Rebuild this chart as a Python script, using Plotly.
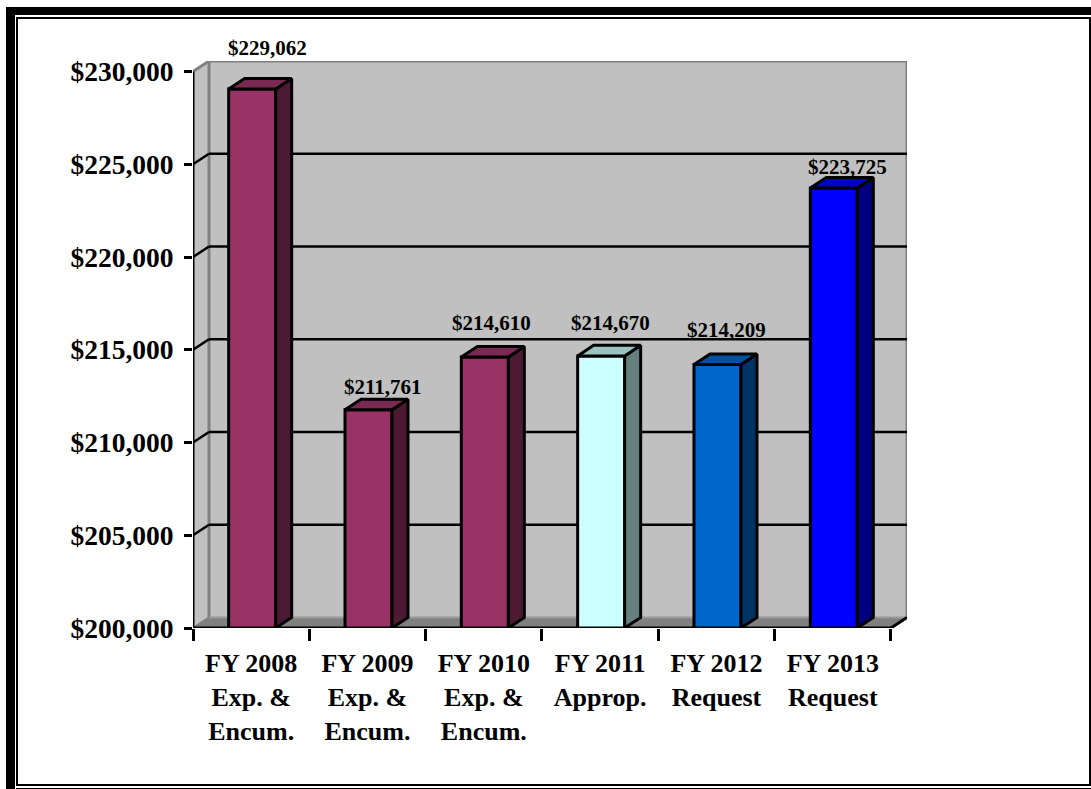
import plotly.graph_objects as go

categories = ["FY 2008<br>Exp. &<br>Encum.", "FY 2009<br>Exp. &<br>Encum.", "FY 2010<br>Exp. &<br>Encum.",
              "FY 2011<br>Approp.", "FY 2012<br>Request", "FY 2013<br>Request"]
values = [229062, 211761, 214610, 214670, 214209, 223725]
value_labels = ["$229,062", "$211,761", "$214,610", "$214,670", "$214,209", "$223,725"]
y_ticks = [200000, 205000, 210000, 215000, 220000, 225000, 230000]
y_tick_labels = ["$200,000", "$205,000", "$210,000", "$215,000", "$220,000", "$225,000", "$230,000"]

front_colors = ["#993366", "#993366", "#993366", "#CCFFFF", "#0066CC", "#0000FF"]
side_colors = ["#4D1A33", "#4D1A33", "#4D1A33", "#668080", "#003366", "#000080"]
top_colors = ["#7A2952", "#7A2952", "#7A2952", "#9CC3C2", "#00519F", "#0000CC"]
label_xshift = [16, 15, 8, 10, 10, 15]
label_yshift = [41, 23, 34, 33, 34, 21]

W, H = 1091, 789
L, R, T, B = 193, 907, 61, 628
UNIT_X = 116.33
UNIT_Y = 92.67 / 5000
DX = 16 / UNIT_X
DY = 10.5 / UNIT_Y
BAR_W = 47 / UNIT_X
BAR_NUDGE = 1 / UNIT_X
Y0 = 200000
NCAT = len(categories)
FONT = "Liberation Serif"

fig = go.Figure()
xc = [i + 0.5 for i in range(NCAT)]
xb = [c + BAR_NUDGE for c in xc]

fig.add_trace(go.Bar(x=xb, y=[v - Y0 for v in values], base=Y0, width=BAR_W,
                     marker=dict(color=front_colors, line=dict(color="black", width=3)),
                     showlegend=False, hoverinfo="skip"))

for c, v, sc, tc in zip(xb, values, side_colors, top_colors):
    l, r = c - BAR_W / 2, c + BAR_W / 2
    fig.add_trace(go.Scatter(x=[r, r + DX, r + DX, r, r], y=[Y0, Y0 + DY, v + DY, v, Y0],
                             fill="toself", fillcolor=sc, mode="lines",
                             line=dict(color="black", width=3), showlegend=False, hoverinfo="skip"))
    fig.add_trace(go.Scatter(x=[l, r, r + DX, l + DX, l], y=[v, v, v + DY, v + DY, v],
                             fill="toself", fillcolor=tc, mode="lines",
                             line=dict(color="black", width=3), showlegend=False, hoverinfo="skip"))


def poly(pts, fill, line=None, width=0, layer="below"):
    path = "M" + " L".join(f"{x},{y}" for x, y in pts) + " Z"
    return dict(type="path", path=path, xref="x", yref="y", fillcolor=fill, layer=layer,
                line=dict(color=line or fill, width=width))


def seg(x0, y0, x1, y1, color="black", width=2, layer="below"):
    return dict(type="line", xref="x", yref="y", x0=x0, y0=y0, x1=x1, y1=y1, layer=layer,
                line=dict(color=color, width=width))


def px_x(p):
    return (p - L) / (R - L)


def px_y(p):
    return (B - p) / (B - T)


def frame(x0, y0, x1, y1):
    return dict(type="rect", xref="paper", yref="paper", x0=px_x(x0), x1=px_x(x1), y0=px_y(y0), y1=px_y(y1),
                fillcolor="black", line=dict(width=0), layer="above")


top_y = y_ticks[-1]
shapes = [
    poly([(DX, Y0 + DY), (NCAT + DX, Y0 + DY), (NCAT + DX, top_y + DY), (DX, top_y + DY)], "#C0C0C0"),
    poly([(0, Y0), (DX, Y0 + DY), (DX, top_y + DY), (0, top_y)], "#C0C0C0"),
    poly([(0, Y0), (NCAT, Y0), (NCAT + DX, Y0 + DY), (DX, Y0 + DY)], "#808080"),
    seg(DX, Y0 + DY, DX, top_y + DY, "#808080", 3),
    seg(NCAT + DX, Y0 + DY, NCAT + DX, top_y + DY, "#808080", 3),
    seg(DX, top_y + DY, NCAT + DX, top_y + DY, "#808080", 3),
    seg(0, top_y, DX, top_y + DY, "#808080", 3),
    seg(0, Y0, DX, Y0 + DY, "#808080", 2),
    seg(DX, Y0 + DY, NCAT + DX, Y0 + DY, "#999999", 2),
]
for t in y_ticks[1:-1]:
    shapes.append(seg(DX, t + DY, NCAT + DX, t + DY, "black", 2.5))
    shapes.append(seg(0, t, DX, t + DY, "black", 2.5))
shapes += [
    seg(0, Y0, 0, top_y, "black", 3),
    seg(0, Y0, NCAT, Y0, "black", 3),
    seg(NCAT, Y0, NCAT + DX, Y0 + DY, "black", 3),
]
shapes += [
    frame(6, 7, 1091, 15),
    frame(6, 7, 15, 789),
    frame(16, 17, 1091, 19),
    frame(16, 17, 18, 786),
    frame(1089, 17, 1091, 786),
    frame(16, 784, 1091, 786),
    frame(16, 788, 1091, 789),
]

annotations = [
    dict(x=c, y=v, xref="x", yref="y", text=t, showarrow=False, xanchor="center", yanchor="middle",
         xshift=xs, yshift=ys, font=dict(family=FONT, size=21, color="black", weight="bold"))
    for c, v, t, xs, ys in zip(xc, values, value_labels, label_xshift, label_yshift)
]

fig.update_layout(
    width=W, height=H,
    margin=dict(l=L, r=W - R, t=T, b=H - B, pad=0),
    paper_bgcolor="white", plot_bgcolor="white",
    showlegend=False, shapes=shapes, annotations=annotations,
    xaxis=dict(range=[0, (R - L) / UNIT_X], tickmode="array", tickvals=xc, ticktext=categories,
               showgrid=False, zeroline=False, showline=False,
               ticks="outside", ticklen=12, tickcolor="rgba(0,0,0,0)",
               tickfont=dict(family=FONT, size=26, color="black", weight="bold"),
               minor=dict(tickmode="array", tickvals=list(range(NCAT + 1)), ticks="outside",
                          ticklen=12, tickwidth=3, tickcolor="black", showgrid=False)),
    yaxis=dict(range=[Y0, top_y + DY], tickmode="array", tickvals=y_ticks, ticktext=y_tick_labels,
               showgrid=False, zeroline=False, showline=False,
               ticks="outside", ticklen=8, tickwidth=3, tickcolor="black", ticklabelstandoff=5,
               tickfont=dict(family=FONT, size=27.5, color="black", weight="bold")),
)

fig.write_html("out.html", config={"displayModeBar": False},
               post_script="document.body.style.margin='0';document.body.style.overflow='hidden';")
